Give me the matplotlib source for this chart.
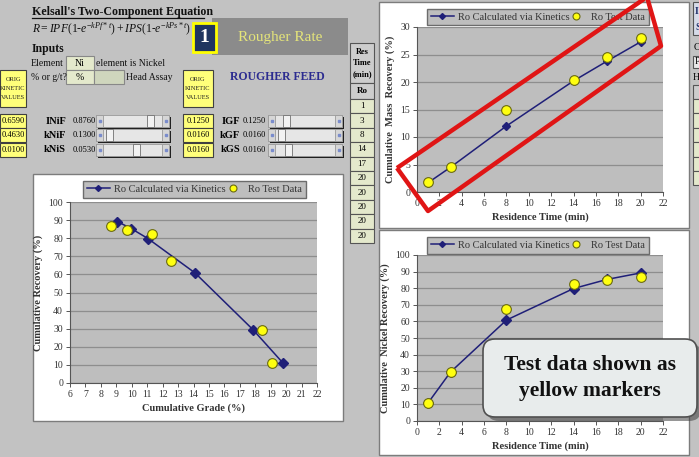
import numpy as np
import matplotlib
matplotlib.use("Agg")
import matplotlib.pyplot as plt
from matplotlib.patches import Rectangle, FancyBboxPatch, Polygon
from matplotlib.lines import Line2D
from matplotlib.colors import LinearSegmentedColormap

# ---- data ----
time_min = [1, 3, 8, 14, 17, 20]
mass_calc = [1.7, 4.5, 12.0, 20.2, 23.8, 27.3]
mass_test = [1.75, 4.5, 15.0, 20.3, 24.5, 28.0]
ni_rec_calc = [11.0, 29.5, 60.8, 79.8, 85.3, 89.2]
ni_rec_test = [11.0, 29.5, 67.2, 82.5, 84.7, 86.5]
grade_calc = [19.8, 17.85, 14.1, 11.05, 9.97, 9.07]
grade_test = [19.1, 18.45, 12.55, 11.28, 9.66, 8.63]

res_times = [1, 3, 8, 14, 17, 20, 20, 20, 20, 20]
orig_ni = ["0.6590", "0.4630", "0.0100"]
orig_g = ["0.1250", "0.0160", "0.0160"]
ni_names = ["INiF", "kNiF", "kNiS"]
ni_vals = ["0.8760", "0.1300", "0.0530"]
g_names = ["IGF", "kGF", "kGS"]
g_vals = ["0.1250", "0.0160", "0.0160"]

calc_label = "Ro Calculated via Kinetics"
test_label = "Ro Test Data"

SHEET = "#c2c2c2"
PLOT = "#bebebe"
GRID = "#8e8e8e"
NAVY = "#1f1f78"
YEL = "#ffff10"
YEL_EDGE = "#6a6a10"
BOXYEL = "#ffff7a"
PALEGRN = "#e4e9cc"

W, H = 699, 457
plt.rcParams["font.family"] = ["Liberation Serif", "DejaVu Serif"]
plt.rcParams["mathtext.fontset"] = "custom"
plt.rcParams["mathtext.it"] = "Liberation Serif:italic"
plt.rcParams["mathtext.rm"] = "Liberation Serif"

fig = plt.figure(figsize=(6.99, 4.57), dpi=100)
fig.patch.set_facecolor(SHEET)


def box(x0, y0, x1, y1):
    return [x0 / W, 1 - y1 / H, (x1 - x0) / W, (y1 - y0) / H]


bg = fig.add_axes([0, 0, 1, 1], zorder=0)
bg.set_xlim(0, W)
bg.set_ylim(H, 0)
bg.axis("off")


def rect(ax, x0, y0, x1, y1, fc, ec="#404040", lw=0.8, z=1):
    ax.add_patch(Rectangle((x0, y0), x1 - x0, y1 - y0, fc=fc, ec=ec, lw=lw, zorder=z))


# ---- spreadsheet header area ----
bg.text(32, 12, "Kelsall's Two-Component Equation", fontsize=8.6, fontweight="bold",
        va="center", ha="left", color="#111")
bg.plot([32, 204], [18, 18], color="#111", lw=0.9)
bg.text(32, 29, r"$R = IPF(1\text{-}e^{-kPf*t}) + IPS(1\text{-}e^{-kPs*t})$",
        fontsize=8.4, va="center", ha="left", color="#111")
bg.text(32, 49, "Inputs", fontsize=8.5, fontweight="bold", va="center", color="#111")
bg.text(31, 63, "Element", fontsize=7, va="center", color="#111")
bg.text(31, 77, "% or g/t?", fontsize=7, va="center", color="#111")
rect(bg, 66, 56, 94, 70, PALEGRN, "#888")
bg.text(80, 63, "Ni", fontsize=7, ha="center", va="center")
bg.text(96, 63, "element is Nickel", fontsize=7, va="center", color="#111")
rect(bg, 66, 70, 94, 84, PALEGRN, "#888")
bg.text(80, 77, "%", fontsize=7, ha="center", va="center")
rect(bg, 94, 70, 124, 84, "#cfd6bd", "#888")
bg.text(126, 77, "Head Assay", fontsize=7, va="center", color="#111")

# banner and number box
rect(bg, 212, 18, 348, 55, "#8b8b8b", "none", 0)
bg.text(280, 38, "Rougher Rate", fontsize=11, color="#e4e47a", ha="center", va="center")
rect(bg, 193, 23, 216, 52, "#1f3560", "#ffff00", 2, z=3)
bg.text(204.5, 38, "1", fontsize=14, fontweight="bold", color="white",
        ha="center", va="center", zorder=4)
bg.text(277, 77, "ROUGHER FEED", fontsize=8.5, fontweight="bold", color="#2c2c90",
        ha="center", va="center")

# orig kinetic value boxes
rows = [(114, 128), (128, 142), (143, 157)]
for x0, x1, vals in [(0, 26, orig_ni), (183, 213, orig_g)]:
    rect(bg, x0, 70, x1, 107, BOXYEL)
    bg.text((x0 + x1) / 2, 88.5, "ORIG\nKINETIC\nVALUES", fontsize=4.6, ha="center",
            va="center", linespacing=2.0, color="#222")
    for (y0, y1), v in zip(rows, vals):
        rect(bg, x0, y0, x1, y1, BOXYEL)
        bg.text((x0 + x1) / 2, (y0 + y1) / 2, v, fontsize=6, ha="center", va="center")


def scrollbar(x0, x1, y0, y1, thumb):
    rect(bg, x0 + 1.5, y0 + 1.5, x1 + 1.5, y1 + 1.5, "#202020", "none", 0)
    rect(bg, x0, y0, x1, y1, "#e6e6e6", "#9a9a9a", 0.6)
    for bx in (x0, x1 - 7):
        rect(bg, bx, y0, bx + 7, y1, "#d6d6d6", "#9a9a9a", 0.6, z=2)
        bg.plot([bx + 3.5], [(y0 + y1) / 2], marker="s", ms=2, color="#7a8ccc", zorder=3)
    rect(bg, thumb, y0, thumb + 7, y1, "#f2f2f2", "#707070", 0.6, z=2)


ni_thumbs = [147, 106, 133]
g_thumbs = [283, 278, 285]
for (y0, y1), name, val, th in zip(rows, ni_names, ni_vals, ni_thumbs):
    yc = (y0 + y1) / 2
    bg.text(66, yc, name, fontsize=7.5, fontweight="bold", ha="right", va="center")
    bg.text(73, yc, val, fontsize=6, ha="left", va="center")
    scrollbar(96, 169, y0 + 1, y1 - 1, th)
for (y0, y1), name, val, th in zip(rows, g_names, g_vals, g_thumbs):
    yc = (y0 + y1) / 2
    bg.text(240, yc, name, fontsize=7.5, fontweight="bold", ha="right", va="center")
    bg.text(243, yc, val, fontsize=6, ha="left", va="center")
    scrollbar(268, 342, y0 + 1, y1 - 1, th)

# residence time column
rect(bg, 350, 43, 374, 83, "#cdcdcd", "#555")
bg.text(362, 63, "Res\nTime\n(min)", fontsize=6, fontweight="bold", ha="center",
        va="center", linespacing=1.5)
rect(bg, 350, 83, 374, 99, "#cdcdcd", "#555")
bg.text(362, 91, "Ro", fontsize=6.5, fontweight="bold", ha="center", va="center")
for i, t in enumerate(res_times):
    y0 = 99 + i * 14.4
    rect(bg, 350, y0, 374, y0 + 14.4, PALEGRN, "#555")
    bg.text(362, y0 + 7.2, str(t), fontsize=6.5, ha="center", va="center")

# partial panel at the right edge
rect(bg, 693, 2, 702, 35, "#d6dbe8", "#555")
bg.text(695, 12, "I", fontsize=7, va="center", fontweight="bold", color="#1f2f6a")
bg.text(695, 27, "S", fontsize=7, va="center", fontweight="bold", color="#1f2f6a")
bg.text(694, 47, "C", fontsize=7, va="center")
rect(bg, 693, 56, 702, 68, "#e8e8e8", "#555")
bg.text(695, 62, "P", fontsize=7, va="center")
bg.text(693, 77, "H", fontsize=7, va="center")
rect(bg, 693, 85, 702, 99, "#cdcdcd", "#555")
for i in range(6):
    rect(bg, 693, 99 + i * 14.4, 702, 113.4 + i * 14.4, PALEGRN, "#555")


# ---- charts ----
def chart(frame, plot, leg, xt, yt, xlim, ylim, xlabel, ylabel, calc_x, calc_y,
          test_x, test_y, calc_ms=5):
    rect(bg, *frame, "white", "#7c7c7c", 1.0, z=1)
    ax = fig.add_axes(box(*plot), zorder=2)
    ax.set_facecolor(PLOT)
    ax.plot(calc_x, calc_y, color=NAVY, lw=1.1, marker="D", ms=calc_ms, zorder=3)
    ax.plot(test_x, test_y, ls="none", marker="o", ms=7, mfc=YEL, mec=YEL_EDGE,
            mew=0.8, zorder=4)
    ax.set_xlim(*xlim)
    ax.set_ylim(*ylim)
    ax.set_xticks(xt)
    ax.set_yticks(yt)
    ax.grid(axis="y", color=GRID, lw=0.9)
    ax.set_axisbelow(True)
    for s in ("top", "right"):
        ax.spines[s].set_visible(False)
    for s in ("left", "bottom"):
        ax.spines[s].set_color("#555")
        ax.spines[s].set_linewidth(0.8)
    ax.tick_params(direction="out", length=3, width=0.7, color="#555", labelsize=7,
                   labelcolor="#333", pad=2)
    ax.set_xlabel(xlabel, fontsize=7.5, fontweight="bold", color="#333", labelpad=3)
    ax.set_ylabel(ylabel, fontsize=7.5, fontweight="bold", color="#333", labelpad=4)
    handles = [Line2D([], [], color=NAVY, lw=1.1, marker="D", ms=3),
               Line2D([], [], ls="none", marker="o", ms=5, mfc=YEL, mec=YEL_EDGE, mew=0.8)]
    lg = ax.legend(handles, [calc_label, test_label], loc="center", ncol=2,
                   bbox_to_anchor=box(*leg), bbox_transform=fig.transFigure,
                   mode="expand", fancybox=False, framealpha=1, facecolor=PLOT,
                   edgecolor="#6c6c6c", fontsize=7.5, borderpad=0.35,
                   handlelength=2.2, handletextpad=0.4, borderaxespad=0)
    for t in lg.get_texts():
        t.set_color("#333")
    return ax


chart((33, 174, 343, 421), (70, 202, 317, 383), (83, 180, 306, 199),
      range(6, 23), range(0, 101, 10), (6, 22), (0, 100),
      "Cumulative Grade (%)", "Cumulative Recovery (%)",
      grade_calc, ni_rec_calc, grade_test, ni_rec_test, calc_ms=5.5)

chart((379, 2, 689, 228), (417, 27, 663, 192), (427, 6, 649, 28),
      range(0, 23, 2), range(0, 31, 5), (0, 22), (0, 30),
      "Residence Time (min)", "Cumulative  Mass  Recovery (%)",
      time_min, mass_calc, time_min, mass_test, calc_ms=4.5)

chart((379, 230, 689, 455), (417, 255, 663, 421), (427, 234, 649, 257),
      range(0, 23, 2), range(0, 101, 10), (0, 22), (0, 100),
      "Residence Time (min)", "Cumulative  Nickel Recovery (%)",
      time_min, ni_rec_calc, time_min, ni_rec_test, calc_ms=5)

# ---- overlay annotations ----
ov = fig.add_axes([0, 0, 1, 1], zorder=10)
ov.set_xlim(0, W)
ov.set_ylim(H, 0)
ov.axis("off")
ov.patch.set_alpha(0)

ov.add_patch(Polygon([(397, 168), (428, 211), (661, 46), (647, -3)], closed=True,
                     fill=False, ec="#e01515", lw=3.2, joinstyle="round"))

shadow = FancyBboxPatch((487, 343), 214, 78, boxstyle="round,pad=0,rounding_size=12",
                        fc="#404040", ec="none", alpha=0.55, zorder=1)
ov.add_patch(shadow)
call = FancyBboxPatch((483, 339), 214, 78, boxstyle="round,pad=0,rounding_size=12",
                      fc="#e8ecec", ec="#505050", lw=1.2, zorder=3)
ov.add_patch(call)
cmap = LinearSegmentedColormap.from_list("g", ["#fbfbfb", "#eef0f0", "#c8cfcf"])
grad = np.linspace(0, 1, 64).reshape(-1, 1)
im = ov.imshow(grad, extent=(483, 697, 417, 339), cmap=cmap, aspect="auto", zorder=2)
im.set_clip_path(call)
ov.text(590, 378, "Test data shown as\nyellow markers", fontsize=15.5, fontweight="bold",
        ha="center", va="center", linespacing=1.35, color="#111", zorder=4)
ov.set_xlim(0, W)
ov.set_ylim(H, 0)

fig.savefig("out.png", dpi=100, facecolor=SHEET)
